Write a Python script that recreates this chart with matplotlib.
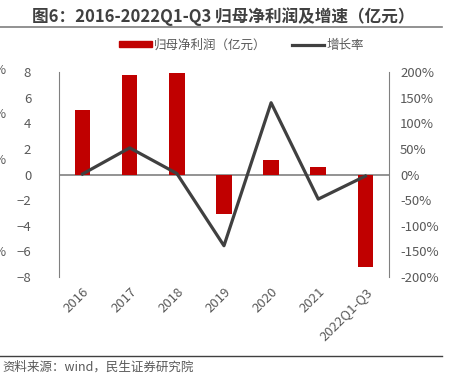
import matplotlib
matplotlib.use("Agg")
import matplotlib.pyplot as plt
from matplotlib.lines import Line2D
from matplotlib.patches import Patch

plt.rcParams['font.family'] = ['Noto Sans CJK SC', 'DejaVu Sans']

years = ["2016", "2017", "2018", "2019", "2020", "2021", "2022Q1-Q3"]
profit = [5.0, 7.75, 7.95, -3.05, 1.15, 0.6, -7.2]          # 亿元
growth = [1, 52, 2, -139, 140, -48, -3]                     # %

left_ticks = [-8, -6, -4, -2, 0, 2, 4, 6, 8]
right_ticks = [-200, -150, -100, -50, 0, 50, 100, 150, 200]

red = "#C00000"
gray_txt = "#595959"
line_col = "#404040"

fig = plt.figure(figsize=(4.52, 3.75), dpi=100)
ax = fig.add_axes([0.1305, 0.2613, 0.73, 0.5467])
x = list(range(len(years)))
ax.bar(x, profit, width=0.33, color=red, zorder=2)
ax.axhline(0, color="#808080", lw=1.2, zorder=1)
ax.set_ylim(-8, 8)
ax.set_xlim(-0.5, len(years) - 0.5)
ax.set_yticks(left_ticks)
ax.set_xticks(x)
ax.set_xticklabels(years, rotation=45, ha="right", rotation_mode="anchor")
ax.tick_params(axis="both", length=0, colors=gray_txt, labelsize=9.5)
ax.tick_params(axis="y", pad=20)
ax.tick_params(axis="x", pad=6)
for s in ["top", "bottom", "right"]:
    ax.spines[s].set_visible(False)
ax.spines["left"].set_color("#808080")

ax2 = ax.twinx()
ax2.plot(x, growth, color=line_col, lw=2.3, zorder=3)
ax2.set_ylim(-200, 200)
ax2.set_yticks(right_ticks)
ax2.set_yticklabels([f"{t}%" for t in right_ticks])
ax2.tick_params(axis="y", length=0, colors=gray_txt, labelsize=9.5, pad=8)
for s in ["top", "bottom", "left"]:
    ax2.spines[s].set_visible(False)
ax2.spines["right"].set_color("#808080")

# title and rules
fig.text(0.071, 0.955, "图6：2016-2022Q1-Q3 归母净利润及增速（亿元）", fontsize=12,
         fontweight="bold", color="#404040", va="center", ha="left")
fig.add_artist(Line2D([0, 0.978], [0.928, 0.928], color="#7f7f7f", lw=1.2))
fig.add_artist(Line2D([0, 0.978], [0.051, 0.051], color="#404040", lw=1.0))
fig.text(0.005, 0.02, "资料来源：wind，民生证券研究院", fontsize=9, color=gray_txt,
         va="center", ha="left")

handles = [Patch(color=red), Line2D([0], [0], color=line_col, lw=2.3)]
fig.legend(handles, ["归母净利润（亿元）", "增长率"], loc="center", bbox_to_anchor=(0.535, 0.88),
           ncol=2, frameon=False, fontsize=9, labelcolor=gray_txt,
           handlelength=2.6, handleheight=0.45, columnspacing=2.0, handletextpad=0.2)

# clipped "%" labels of the neighbouring chart at the left edge
for yy in [70, 115, 160, 252]:
    fig.text(0.012, 1 - yy / 375, "%", fontsize=9.5, color=gray_txt, ha="right", va="center")

fig.savefig("out.png", dpi=100)
